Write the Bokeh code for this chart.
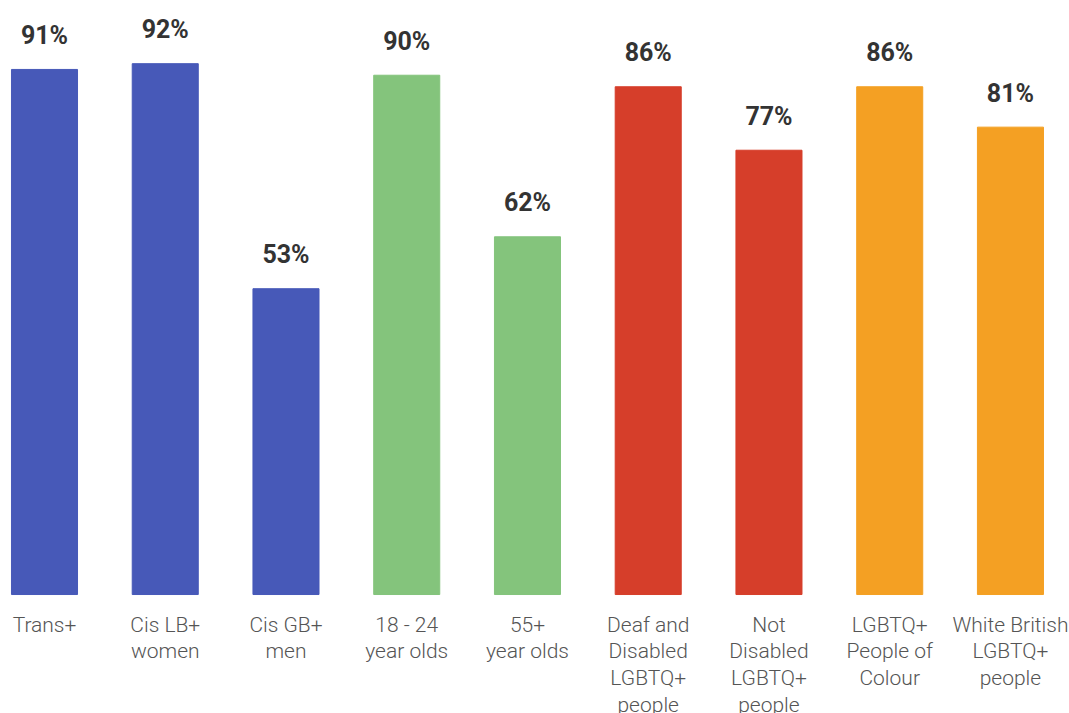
from bokeh.plotting import figure
from bokeh.models import ColumnDataSource, Range1d
from bokeh.core.properties import value
from bokeh.embed import file_html
from bokeh.resources import INLINE

categories = ["Trans+", "Cis LB+\nwomen", "Cis GB+\nmen", "18 - 24\nyear olds", "55+\nyear olds",
              "Deaf and\nDisabled\nLGBTQ+\npeople", "Not\nDisabled\nLGBTQ+\npeople",
              "LGBTQ+\nPeople of\nColour", "White British\nLGBTQ+\npeople"]
# bar heights as drawn in the picture
bar_values = [91, 92, 53, 90, 62, 88, 77, 88, 81]
# value labels as printed
value_labels = ["91%", "92%", "53%", "90%", "62%", "86%", "77%", "86%", "81%"]
colors = ["#4759B8", "#4759B8", "#4759B8", "#84C47C", "#84C47C",
          "#D63E2A", "#D63E2A", "#F4A023", "#F4A023"]

xs = list(range(len(bar_values)))
src = ColumnDataSource(dict(x=xs, top=bar_values, color=colors, cat=categories,
                            lab=value_labels, zero=[0] * len(bar_values)))

p = figure(width=1069, height=713, output_backend="svg", toolbar_location=None,
           x_range=Range1d(-0.3644, 8.489), y_range=Range1d(-20.62, 102.95),
           min_border=0, outline_line_color=None)
p.axis.visible = False
p.grid.visible = False

p.vbar(x="x", top="top", bottom=0, width=0.547, color="color", source=src)
p.text(x="x", y="top", text="lab", source=src, text_align="center", text_baseline="alphabetic",
       y_offset=-34, text_font=value("Roboto"), text_font_style="bold",
       text_font_size="25px", text_color="#333333")
p.text(x="x", y="zero", text="cat", source=src, text_align="center", text_baseline="top",
       y_offset=18, text_font=value("Roboto Light"), text_font_size="21px",
       text_color="#555555", text_line_height=1.12)

open("out.html", "w").write(file_html(p, INLINE))
